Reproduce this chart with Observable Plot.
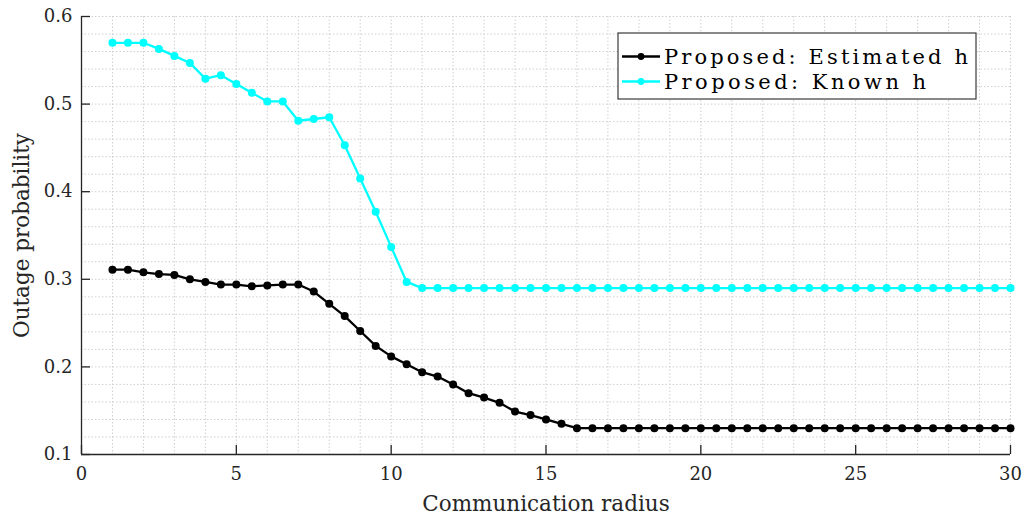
<!DOCTYPE html>
<html>
<head>
<meta charset="utf-8">
<script src="https://cdn.jsdelivr.net/npm/d3@7"></script>
<script src="https://cdn.jsdelivr.net/npm/@observablehq/plot@0.6"></script>
<style>
  html, body { margin: 0; padding: 0; background: #fff; }
  #chart { position: relative; width: 1026px; height: 515px; }
</style>
</head>
<body>
<div id="chart"></div>
<script>
// ---- data ----
const radius = [1, 1.5, 2, 2.5, 3, 3.5, 4, 4.5, 5, 5.5, 6, 6.5, 7, 7.5, 8, 8.5, 9, 9.5, 10, 10.5,
  11, 11.5, 12, 12.5, 13, 13.5, 14, 14.5, 15, 15.5, 16, 16.5, 17, 17.5, 18, 18.5, 19, 19.5, 20, 20.5,
  21, 21.5, 22, 22.5, 23, 23.5, 24, 24.5, 25, 25.5, 26, 26.5, 27, 27.5, 28, 28.5, 29, 29.5, 30];
const estimatedH = [0.311, 0.311, 0.308, 0.306, 0.305, 0.300, 0.297, 0.294, 0.294, 0.292,
  0.293, 0.294, 0.294, 0.286, 0.272, 0.258, 0.241, 0.224, 0.212, 0.203,
  0.194, 0.189, 0.180, 0.170, 0.165, 0.159, 0.149, 0.145, 0.140, 0.135,
  0.130, 0.130, 0.130, 0.130, 0.130, 0.130, 0.130, 0.130, 0.130, 0.130,
  0.130, 0.130, 0.130, 0.130, 0.130, 0.130, 0.130, 0.130, 0.130, 0.130,
  0.130, 0.130, 0.130, 0.130, 0.130, 0.130, 0.130, 0.130, 0.130];
const knownH = [0.570, 0.570, 0.570, 0.563, 0.555, 0.547, 0.529, 0.533, 0.523, 0.513,
  0.503, 0.503, 0.481, 0.483, 0.485, 0.453, 0.415, 0.377, 0.337, 0.297,
  0.290, 0.290, 0.290, 0.290, 0.290, 0.290, 0.290, 0.290, 0.290, 0.290,
  0.290, 0.290, 0.290, 0.290, 0.290, 0.290, 0.290, 0.290, 0.290, 0.290,
  0.290, 0.290, 0.290, 0.290, 0.290, 0.290, 0.290, 0.290, 0.290, 0.290,
  0.290, 0.290, 0.290, 0.290, 0.290, 0.290, 0.290, 0.290, 0.290];
const seriesNames = ["Proposed: Estimated h", "Proposed: Known h"];
const seriesColors = ["#000000", "#00ffff"];
const xTicks = [0, 5, 10, 15, 20, 25, 30];
const yTicks = [0.1, 0.2, 0.3, 0.4, 0.5, 0.6];
const xLabel = "Communication radius";
const yLabel = "Outage probability";

// ---- layout ----
const W = 1026, H = 515;
const mL = 81, mR = 16, mT = 16, mB = 61;
const plotW = W - mL - mR, plotH = H - mT - mB;
const axisColor = "#262626";
const gridColor = "#cfcfcf";
const serif = "DejaVu Serif";

const rows = [];
radius.forEach((r, i) => {
  rows.push({x: r, y: estimatedH[i], s: seriesNames[0]});
});
radius.forEach((r, i) => {
  rows.push({x: r, y: knownH[i], s: seriesNames[1]});
});

const color = {domain: seriesNames, range: seriesColors};

const chart = Plot.plot({
  width: W, height: H,
  marginLeft: mL, marginRight: mR, marginTop: mT, marginBottom: mB,
  style: `font-family: '${serif}', serif; font-size: 18px; color: ${axisColor}; background: #fff;`,
  x: {domain: [0, 30]},
  y: {domain: [0.1, 0.6]},
  color,
  marks: [
    Plot.gridX(d3.range(0, 31, 1), {stroke: gridColor, strokeOpacity: 1, strokeDasharray: "1.5,2", strokeWidth: 1}),
    Plot.gridY(d3.range(0.1, 0.6001, 0.02), {stroke: gridColor, strokeOpacity: 1, strokeDasharray: "1.5,2", strokeWidth: 1}),
    Plot.line(rows, {x: "x", y: "y", z: "s", stroke: "s", strokeWidth: 2.3}),
    Plot.dot(rows, {x: "x", y: "y", fill: "s", r: 4}),
    Plot.ruleX([0], {stroke: axisColor, strokeWidth: 1.3}),
    Plot.ruleY([0.1], {stroke: axisColor, strokeWidth: 1.3}),
    Plot.tickX(xTicks, {x: d => d, stroke: axisColor, strokeWidth: 1.3, insetTop: plotH - 9}),
    Plot.tickY(yTicks, {y: d => d, stroke: axisColor, strokeWidth: 1.3, insetRight: plotW - 9}),
    Plot.axisX({ticks: xTicks, tickSize: 0, tickPadding: 13, tickFormat: d3.format("d"),
      label: xLabel, labelAnchor: "center", labelArrow: "none", labelOffset: 56, fill: axisColor}),
    Plot.axisY({ticks: yTicks, tickSize: 0, tickPadding: 9, tickFormat: d3.format(".1f"),
      label: yLabel, labelAnchor: "center", labelArrow: "none", labelOffset: 68, fill: axisColor})
  ]
});

document.getElementById("chart").appendChild(chart);

const svg = d3.select(chart);
svg.attr("font-family", serif);
svg.selectAll("text").style("font-family", serif);
svg.selectAll("[aria-label='x-axis tick label'] text, [aria-label='y-axis tick label'] text")
  .style("font-size", "18px");
svg.selectAll("[aria-label='x-axis label'] text, [aria-label='y-axis label'] text")
  .style("font-size", "21.5px");

// ---- legend ----
const lg = svg.append("g").attr("class", "legend").attr("text-anchor", "start");
const box = {x: 618, y: 33, w: 358, h: 66};
lg.append("rect").attr("x", box.x).attr("y", box.y).attr("width", box.w).attr("height", box.h)
  .attr("fill", "#fff").attr("stroke", "#3a3a3a").attr("stroke-width", 1.2);
const textLens = [304, 262];
seriesNames.forEach((name, i) => {
  const cy = box.y + 23.5 + i * 25;
  lg.append("line").attr("x1", box.x + 4).attr("x2", box.x + 42).attr("y1", cy).attr("y2", cy)
    .attr("stroke", seriesColors[i]).attr("stroke-width", 2.3);
  lg.append("circle").attr("cx", box.x + 23).attr("cy", cy).attr("r", 3.4).attr("fill", seriesColors[i]);
  lg.append("text").attr("x", box.x + 46).attr("y", cy).attr("dy", "0.36em")
    .attr("fill", "#000").attr("text-anchor", "start")
    .style("font-family", serif).style("font-size", "21px")
    .attr("textLength", textLens[i]).attr("lengthAdjust", "spacing")
    .text(name);
});
</script>
</body>
</html>
